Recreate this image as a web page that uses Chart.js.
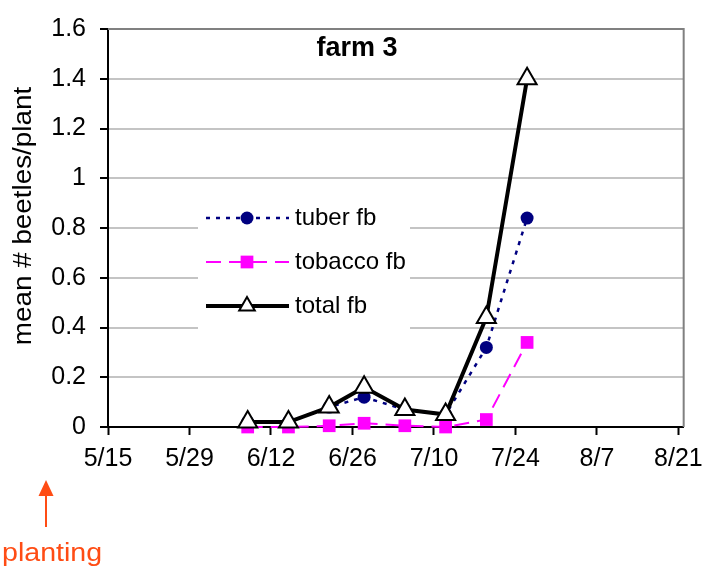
<!DOCTYPE html>
<html>
<head>
<meta charset="utf-8">
<script src="https://cdn.jsdelivr.net/npm/chart.js@4.4.1/dist/chart.umd.min.js"></script>
<style>
  html, body { margin: 0; padding: 0; background: #fff; }
  #wrap { width: 712px; height: 571px; }
</style>
</head>
<body>
<div id="wrap"><canvas id="farm3"></canvas></div>
<script>
const sampleDates = ['6/8', '6/15', '6/22', '6/28', '7/5', '7/12', '7/19', '7/26'];
const tuberFb = [0.02, 0.02, 0.08, 0.12, 0.07, 0.05, 0.32, 0.84];
const tobaccoFb = [0, 0, 0.005, 0.015, 0.005, 0, 0.03, 0.34];
const totalFb = [0.02, 0.02, 0.08, 0.16, 0.07, 0.05, 0.44, 1.40];

const xTickLabels = ['5/15', '5/29', '6/12', '6/26', '7/10', '7/24', '8/7', '8/21'];
const yTickLabels = ['0', '0.2', '0.4', '0.6', '0.8', '1', '1.2', '1.4', '1.6'];

const FONT = '"Liberation Sans", Arial, sans-serif';

// days since 5/15
const monthOffset = { 5: 0, 6: 31, 7: 61, 8: 92 };
function dayNo(md) {
    const [m, d] = md.split('/').map(Number);
    return monthOffset[m] + d - 15;
}
const xTickDays = xTickLabels.map(dayNo);
const yTickValues = yTickLabels.map(Number);

function points(values) {
    return values.map((v, i) => ({ x: dayNo(sampleDates[i]), y: v }));
}

const series = [
    {
        label: 'tuber fb',
        data: points(tuberFb),
        borderColor: '#000080',
        backgroundColor: '#000080',
        borderWidth: 2.5,
        borderDash: [4, 6],
        pointStyle: 'circle',
        pointRadius: 6.5,
        pointBorderWidth: 0,
        order: 3,
    },
    {
        label: 'tobacco fb',
        data: points(tobaccoFb),
        borderColor: '#ff00ff',
        backgroundColor: '#ff00ff',
        borderWidth: 2,
        borderDash: [15, 8],
        pointStyle: 'rect',
        pointRadius: 9,
        pointBorderWidth: 0,
        order: 2,
    },
    {
        label: 'total fb',
        data: points(totalFb),
        borderColor: '#000',
        backgroundColor: '#fff',
        borderWidth: 4,
        pointStyle: 'triangle',
        pointRadius: 11,
        pointBorderWidth: 2,
        pointBorderColor: '#000',
        order: 1,
    },
];

// legend sits inside the plot on a white patch, Excel style
const innerLegend = {
    id: 'innerLegend',
    afterDraw(chart) {
        const ctx = chart.ctx;
        ctx.save();
        ctx.fillStyle = '#fff';
        ctx.fillRect(198, 196, 212, 138);
        const rows = [218, 262, 306];
        series.forEach((s, i) => {
            const y = rows[i];
            ctx.strokeStyle = s.borderColor;
            ctx.lineWidth = s.borderWidth;
            ctx.setLineDash(s.borderDash || []);
            ctx.beginPath();
            ctx.moveTo(206, y);
            ctx.lineTo(289, y);
            ctx.stroke();
            ctx.setLineDash([]);
            const cx = 247;
            if (s.pointStyle === 'circle') {
                ctx.fillStyle = s.backgroundColor;
                ctx.beginPath();
                ctx.arc(cx, y, s.pointRadius, 0, Math.PI * 2);
                ctx.fill();
            } else if (s.pointStyle === 'rect') {
                const h = s.pointRadius * Math.SQRT1_2;
                ctx.fillStyle = s.backgroundColor;
                ctx.fillRect(cx - h, y - h, h * 2, h * 2);
            } else {
                const r = 9;
                ctx.fillStyle = '#fff';
                ctx.strokeStyle = '#000';
                ctx.lineWidth = 2;
                ctx.beginPath();
                ctx.moveTo(cx, y - r);
                ctx.lineTo(cx + r * 0.866, y + r / 2);
                ctx.lineTo(cx - r * 0.866, y + r / 2);
                ctx.closePath();
                ctx.fill();
                ctx.stroke();
            }
            ctx.fillStyle = '#000';
            ctx.font = '24px ' + FONT;
            ctx.textAlign = 'left';
            ctx.textBaseline = 'middle';
            ctx.fillText(s.label, 295, y);
        });
        ctx.restore();
    },
};

// chart heading, y title, plot frame and the planting marker under the axis
const extras = {
    id: 'extras',
    beforeDatasetsDraw(chart) {
        const { ctx, chartArea: a } = chart;
        ctx.save();
        ctx.strokeStyle = '#808080';
        ctx.lineWidth = 2;
        ctx.beginPath();
        ctx.moveTo(a.left, a.top);
        ctx.lineTo(a.right, a.top);
        ctx.lineTo(a.right, a.bottom);
        ctx.stroke();
        ctx.restore();
    },
    afterDraw(chart) {
        const ctx = chart.ctx;
        ctx.save();
        ctx.fillStyle = '#000';
        ctx.font = 'bold 27px ' + FONT;
        ctx.textAlign = 'center';
        ctx.textBaseline = 'middle';
        ctx.fillText('farm 3', 357, 49);

        ctx.save();
        ctx.translate(24, 216);
        ctx.rotate(-Math.PI / 2);
        ctx.scale(1.07, 1);
        ctx.font = '26px ' + FONT;
        ctx.fillText('mean # beetles/plant', 0, 0);
        ctx.restore();

        const orange = '#ff4c14';
        ctx.strokeStyle = orange;
        ctx.fillStyle = orange;
        ctx.lineWidth = 2;
        ctx.beginPath();
        ctx.moveTo(46, 527);
        ctx.lineTo(46, 492);
        ctx.stroke();
        ctx.beginPath();
        ctx.moveTo(46, 480);
        ctx.lineTo(53.5, 496);
        ctx.lineTo(38.5, 496);
        ctx.closePath();
        ctx.fill();
        ctx.font = '26px ' + FONT;
        ctx.textAlign = 'left';
        ctx.textBaseline = 'alphabetic';
        ctx.save();
        ctx.translate(2, 561);
        ctx.scale(1.1, 1);
        ctx.fillText('planting', 0, 0);
        ctx.restore();
        ctx.restore();
    },
};

new Chart(document.getElementById('farm3'), {
    type: 'line',
    data: { datasets: series },
    plugins: [extras, innerLegend],
    options: {
        responsive: true,
        maintainAspectRatio: false,
        animation: false,
        layout: { padding: { left: 0, top: 24, right: 26, bottom: 0 } },
        elements: { line: { tension: 0 } },
        datasets: { line: { clip: false } },
        plugins: {
            legend: { display: false },
            tooltip: { enabled: false },
        },
        scales: {
            x: {
                type: 'linear',
                min: 0,
                max: 98.9,
                afterBuildTicks: (s) => { s.ticks = xTickDays.map(v => ({ value: v })); },
                afterFit: (s) => { s.height = 144; },
                ticks: {
                    autoSkip: false,
                    maxRotation: 0,
                    padding: 9,
                    color: '#000',
                    font: { family: FONT, size: 25 },
                    callback: (v, i) => xTickLabels[i],
                },
                grid: { drawOnChartArea: false, tickLength: 8, tickColor: '#000', tickWidth: 2 },
                border: { color: '#000', width: 2 },
            },
            y: {
                min: 0,
                max: 1.6,
                afterBuildTicks: (s) => { s.ticks = yTickValues.map(v => ({ value: v })); },
                afterFit: (s) => { s.width = 108; },
                ticks: {
                    padding: 14,
                    color: '#000',
                    font: { family: FONT, size: 25 },
                    callback: (v, i) => yTickLabels[i],
                },
                grid: {
                    color: (c) => c.index === yTickValues.length - 1 ? '#808080' : '#c4c4c4',
                    lineWidth: 2,
                    tickLength: 8,
                    tickColor: '#000',
                    tickWidth: 2,
                },
                border: { color: '#000', width: 2 },
            },
        },
    },
});
</script>
</body>
</html>
